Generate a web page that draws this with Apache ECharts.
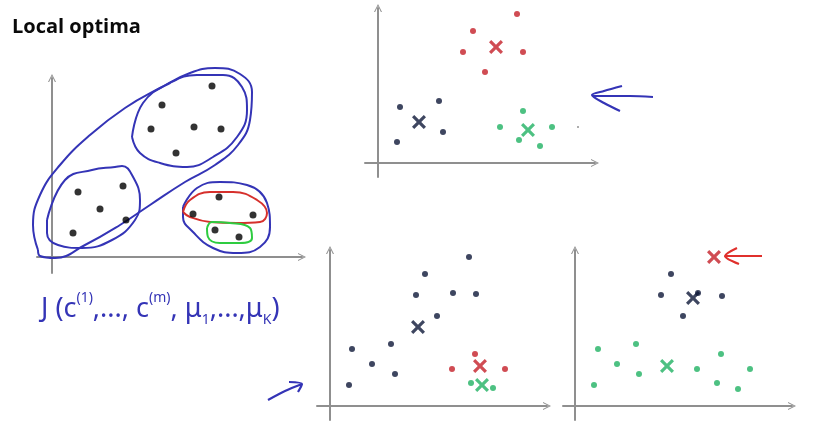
<!DOCTYPE html>
<html>
<head>
<meta charset="utf-8">
<script src="https://cdn.jsdelivr.net/npm/echarts@6/dist/echarts.min.js"></script>
<style>html,body{margin:0;padding:0;background:#fff}#c{width:818px;height:430px}</style>
</head>
<body>
<div id="c"></div>
<script>
// ---------- Panel 1 (original clustering, black points) ----------
const p1Points = [[160,171],[110,152],[99,128],[142,130],[169,128],[124,104],
                  [26,65],[71,71],[48,48],[74,37],[21,24],
                  [167,60],[141,43],[201,42],[163,27],[187,20]];
const p1OuterLoop = [[-14,7],[-19,32],[-12,62],[8,92],[38,122],[73,149],[108,169],[138,184],[163,189],[188,183],[200,165],[198,137],[186,112],[163,92],[133,75],[98,52],[68,32],[33,12],[3,-1],[-12,1],[-14,7]];
const p1UpperLoop = [[80,120],[91,154],[118,174],[145,182],[171,182],[190,170],[195,147],[185,120],[161,100],[135,90],[108,94],[88,104],[80,120]];
const p1LowerLeftLoop = [[-5,37],[13,77],[40,87],[63,90],[70,91],[80,82],[88,57],[83,37],[60,17],[30,9],[6,12],[-5,24],[-5,37]];
const p1LowerRightLoop = [[131,50],[145,69],[168,75],[195,72],[215,54],[218,30],[208,10],[185,4],[161,9],[141,25],[131,40],[131,50]];
const p1RedLoop = [[131,45],[138,57],[158,65],[181,65],[205,57],[215,44],[208,35],[185,34],[158,35],[138,40],[131,45]];
const p1GreenLoop = [[155,29],[160,35],[178,34],[198,29],[200,19],[188,14],[168,14],[156,20],[155,29]];

// ---------- Panel 2 (good optimum) ----------
const p2Red = [[139,149],[95,132],[85,111],[145,111],[107,91]];
const p2RedX = [[118,116]];
const p2Navy = [[22,56],[61,62],[65,31],[19,21]];
const p2NavyX = [[41,41]];
const p2Green = [[145,52],[122,36],[174,36],[141,23],[162,17]];
const p2GreenX = [[150,33]];
const p2Speck = [[200,36]];

// ---------- Panel 3 (local optimum A) ----------
const p3Navy = [[139,149],[95,132],[86,111],[123,113],[146,112],[107,90],[22,57],[61,62],[42,42],[65,32],[19,21]];
const p3NavyX = [[88,79]];
const p3Red = [[145,52],[122,37],[175,37]];
const p3RedX = [[150,40]];
const p3Green = [[141,23],[163,18]];
const p3GreenX = [[152,21]];

// ---------- Panel 4 (local optimum B) ----------
const p4Navy = [[96,132],[86,111],[123,113],[147,110],[108,90]];
const p4NavyX = [[118,108]];
const p4Green = [[23,57],[61,62],[42,42],[64,32],[19,21],[146,52],[122,37],[175,37],[142,23],[163,17]];
const p4GreenX = [[92,40]];
const p4RedX = [[139,149]];

// ---------- Annotation strokes (page pixel frame) ----------
const blueArrows = [[653,97],[630,96],[610,96],[593,96],null,[622,86],[604,91],[592,95],[604,103],[620,111],null,
                    [268,400],[285,391],[302,384],null,[289,382],[302,384],[298,392]];
const redArrow = [[762,256],[744,256],[726,256],null,[737,248],[725,256],[739,264]];

const INK = '#3434b6', NAVY = '#0e1838', RED = '#c41f28', GREEN = '#20b163', AXIS = '#8f8f8f';
const chevron = 'path://M0,10 L5,0 L10,10 L8.6,10 L5,2.6 L1.4,10 Z';
const cross = 'path://M0,1.6 L1.6,0 L5,3.4 L8.4,0 L10,1.6 L6.6,5 L10,8.4 L8.4,10 L5,6.6 L1.6,10 L0,8.4 L3.4,5 Z';

const grids = [
  {left:37, top:78, width:265, height:195},
  {left:365, top:8, width:230, height:169},
  {left:317, top:250, width:230, height:170},
  {left:563, top:250, width:229, height:170},
  {left:0, top:0, width:818, height:430},
  {left:29, top:78, width:273, height:195}   // same scale as panel 1, wider, for the hand-drawn loops
];
const ranges = [
  {x:[-15,250], y:[-16,179]},
  {x:[-13,217], y:[-14,155]},
  {x:[-13,217], y:[-14,156]},
  {x:[-12,217], y:[-14,156]}
];
function axis(i, r){
  return {type:'value', gridIndex:i, min:r[0], max:r[1],
    axisLine:{show:true, onZero:true, symbol:['none', chevron], symbolSize:[11,8], lineStyle:{color:AXIS, width:2}},
    axisTick:{show:false}, axisLabel:{show:false}, splitLine:{show:false}};
}
const xAxes = ranges.map((r,i)=>axis(i, r.x));
const yAxes = ranges.map((r,i)=>axis(i, r.y));
xAxes.push({type:'value', gridIndex:4, min:0, max:818, show:false});
yAxes.push({type:'value', gridIndex:4, min:0, max:430, inverse:true, show:false});
xAxes.push({type:'value', gridIndex:5, min:-23, max:250, show:false});
yAxes.push({type:'value', gridIndex:5, min:-16, max:179, show:false});

function dots(i, data, color, size){
  return {type:'scatter', xAxisIndex:i, yAxisIndex:i, data, symbol:'circle', symbolSize:size||6,
          itemStyle:{color}, silent:true, z:5};
}
function xs(i, data, color){
  return {type:'scatter', xAxisIndex:i, yAxisIndex:i, data, symbol:cross, symbolSize:14,
          itemStyle:{color}, silent:true, z:6};
}
function loop(data, color){
  return {type:'line', xAxisIndex:5, yAxisIndex:5, data, smooth:0.45, showSymbol:false, clip:false,
          lineStyle:{color, width:2}, silent:true, z:4};
}
function stroke(data, color){
  return {type:'line', xAxisIndex:4, yAxisIndex:4, data, smooth:0.3, showSymbol:false, connectNulls:false,
          lineStyle:{color, width:2.2}, silent:true, z:4};
}

const option = {
  animation:false,
  backgroundColor:'#fff',
  title:[
    {text:'Local optima', left:7, top:12, textStyle:{fontFamily:'Open Sans', fontWeight:'bold', fontSize:20, color:'#0a0a0a'}},
    {text:'{b|J (c}{s|(1)}{b|,..., c}{s|(m)}{b|, μ}{u|1}{b|,...,μ}{u|K}{b|)}', left:36, top:286,
     textStyle:{fontWeight:'normal', rich:{
       b:{fontFamily:'Noto Sans', fontWeight:'normal', fontSize:27, color:INK, lineHeight:36},
       s:{fontFamily:'Noto Sans', fontWeight:'normal', fontSize:14, color:INK, verticalAlign:'top', lineHeight:36},
       u:{fontFamily:'Noto Sans', fontWeight:'normal', fontSize:14, color:INK, verticalAlign:'bottom', lineHeight:36}
     }}}
  ],
  grid:grids,
  xAxis:xAxes,
  yAxis:yAxes,
  series:[
    loop(p1OuterLoop, INK), loop(p1UpperLoop, INK), loop(p1LowerLeftLoop, INK),
    loop(p1LowerRightLoop, INK), loop(p1RedLoop, '#d6302c'), loop(p1GreenLoop, '#2ecc40'),
    dots(0, p1Points, '#000', 7),
    dots(1, p2Red, RED), xs(1, p2RedX, RED), dots(1, p2Navy, NAVY), xs(1, p2NavyX, NAVY),
    dots(1, p2Green, GREEN), xs(1, p2GreenX, GREEN), dots(1, p2Speck, '#777', 2),
    dots(2, p3Navy, NAVY), xs(2, p3NavyX, NAVY), dots(2, p3Red, RED), xs(2, p3RedX, RED),
    dots(2, p3Green, GREEN), xs(2, p3GreenX, GREEN),
    dots(3, p4Navy, NAVY), xs(3, p4NavyX, NAVY), dots(3, p4Green, GREEN), xs(3, p4GreenX, GREEN),
    xs(3, p4RedX, RED),
    stroke(blueArrows, INK), stroke(redArrow, '#e0302c')
  ]
};
echarts.init(document.getElementById('c'), null, {renderer:'canvas'}).setOption(option);
</script>
</body>
</html>
